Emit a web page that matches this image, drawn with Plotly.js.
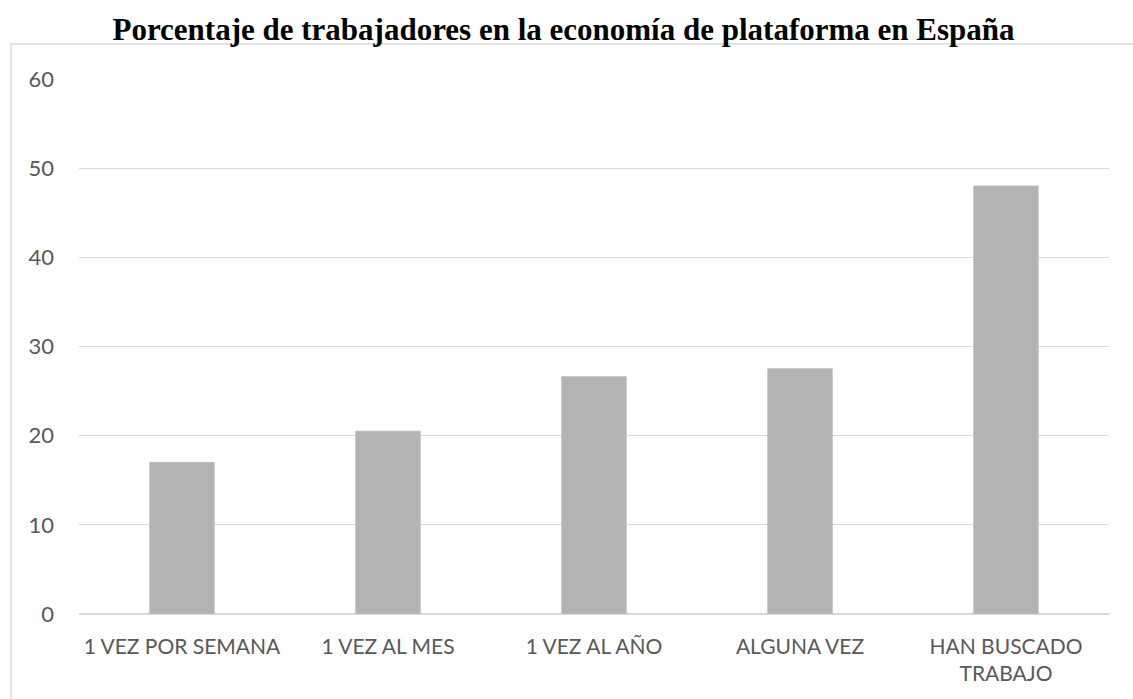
<!DOCTYPE html>
<html>
<head>
<meta charset="utf-8">
<script src="https://cdn.plot.ly/plotly-3.0.1.min.js"></script>
<style>html,body{margin:0;padding:0;background:#fff;}#chart{width:1133px;height:699px;}</style>
</head>
<body>
<div id="chart"></div>
<script>
const categories = ["1 VEZ POR SEMANA", "1 VEZ AL MES", "1 VEZ AL AÑO", "ALGUNA VEZ", "HAN BUSCADO<br>TRABAJO"];
const values = [17.0, 20.5, 26.6, 27.5, 48.0];
const yTicks = [0, 10, 20, 30, 40, 50, 60];
const chartTitle = "Porcentaje de trabajadores en la economía de plataforma en España";

const W = 1133, H = 699;
const L = 79, R = 24, T = 79, B = 85;
const pw = W - L - R, ph = H - T - B;
const px = x => (x - L) / pw;
const py = y => (H - B - y) / ph;

const trace = {
  type: 'bar',
  x: categories,
  y: values,
  marker: {color: '#b3b3b3', line: {color: '#bdbdbd', width: 1}},
  hoverinfo: 'x+y'
};

const layout = {
  width: W, height: H,
  margin: {l: L, r: R, t: T, b: B, pad: 0},
  paper_bgcolor: '#ffffff',
  plot_bgcolor: '#ffffff',
  showlegend: false,
  bargap: 0.6875,
  title: {
    text: '<b>' + chartTitle + '</b>',
    font: {family: '"Liberation Serif", "Times New Roman", serif', size: 31, color: '#000000'},
    x: 563.5 / W, xanchor: 'center',
    y: 1 - 29 / H, yanchor: 'middle', yref: 'container'
  },
  xaxis: {
    type: 'category',
    showgrid: false,
    showline: false,
    zeroline: false,
    ticks: '',
    tickfont: {family: 'Lato, "Open Sans", sans-serif', size: 21, color: '#595959'},
    ticklabelstandoff: 18,
    fixedrange: true
  },
  yaxis: {
    range: [0, 60],
    tickvals: yTicks,
    ticktext: yTicks.map(String),
    showgrid: true,
    gridcolor: '#d9d9d9',
    gridwidth: 1.3,
    zeroline: true,
    zerolinecolor: '#d9d9d9',
    zerolinewidth: 1.3,
    showline: false,
    ticks: '',
    tickfont: {family: 'Lato, "Open Sans", sans-serif', size: 22, color: '#595959'},
    ticklabelstandoff: 24,
    fixedrange: true
  },
  shapes: [{
    type: 'rect', xref: 'paper', yref: 'paper',
    x0: px(11), x1: px(1145), y0: py(710), y1: py(44),
    line: {color: '#d9d9d9', width: 1.5},
    fillcolor: 'rgba(0,0,0,0)',
    layer: 'below'
  }]
};

Plotly.newPlot('chart', [trace], layout, {displayModeBar: false, staticPlot: true});
</script>
</body>
</html>
